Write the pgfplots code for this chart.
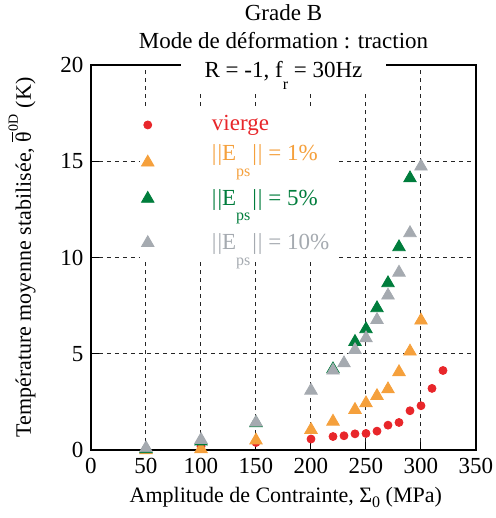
\documentclass[border=0pt]{standalone}
\usepackage{pgfplots}
\pgfplotsset{compat=1.18}
\usepackage{fontspec}
\setmainfont{Liberation Serif}
\definecolor{cred}{RGB}{232,38,42}
\definecolor{corange}{RGB}{245,160,60}
\definecolor{cgreen}{RGB}{0,125,60}
\definecolor{cgrey}{RGB}{165,170,176}
\newcommand{\nE}{|\kern0.5pt|E\raisebox{-1.5ex}{\footnotesize ps}\kern1pt|\kern0.5pt|}
\begin{document}
\fontsize{11}{13}\selectfont
\begin{tikzpicture}
\useasboundingbox (-45.5pt,-34pt) rectangle (202pt,225pt);
\begin{axis}[
  at={(0,0)}, anchor=origin,
  scale only axis, width=192.5pt, height=192.5pt,
  xmin=0, xmax=350, ymin=0, ymax=20,
  xtick={0,50,...,350}, ytick={0,5,...,20},
  xtick pos=bottom, ytick pos=left,
  tick align=inside, major tick length=4pt,
  tick style={black, solid, line width=0.5pt},
  grid=major,
  major grid style={black!85, dash pattern=on 2pt off 2pt, line width=0.5pt},
  axis line style={black, line width=0.6pt},
  /pgf/number format/assume math mode=true,
  tick label style={font=\fontsize{11.5}{13}\selectfont},
  label style={font=\fontsize{11}{13}\selectfont},
  xlabel={Amplitude de Contrainte, Σ\raisebox{-0.5ex}{\footnotesize 0} (MPa)},
  xlabel style={at={(axis description cs:0.506,-0.122)}, anchor=center},
  ylabel={Température moyenne stabilisée, $\overline{\hbox{θ}}^{\hbox{\scriptsize 0D}}$ (K)},
  ylabel style={at={(axis description cs:-0.179,0.5)}, anchor=center, rotate=0},
  clip=false,
  legend cell align=left,
  legend style={draw=none, fill=white, at={(axis description cs:0.125,0.885)}, anchor=north west,
    font=\fontsize{11.5}{13}\selectfont, row sep=8.5pt, inner sep=1pt},
  legend image code/.code={\draw[#1] plot coordinates {(0cm,0cm)}; \path (0cm,0cm) (1.05cm,0cm);},
]
\addplot[only marks, mark=*, mark size=2pt, cred, mark options={draw=cred, fill=cred}] coordinates {
(50,0.03)(100,0.18)(150,0.39)(200,0.57)(220,0.70)(230,0.74)(240,0.84)(250,0.86)(260,0.98)(270,1.29)(280,1.43)(290,2.04)(300,2.30)(310,3.20)(320,4.13)};
\addlegendentry{\textcolor{cred}{vierge}}
\addplot[only marks, mark=triangle*, mark size=3.6pt, corange, mark options={draw=corange, fill=corange}] coordinates {
(50,0.0)(100,0.05)(150,0.5)(200,1.05)(220,1.48)(240,2.09)(250,2.43)(260,2.81)(270,3.16)(280,4.05)(290,5.12)(300,6.73)};
\addlegendentry{\textcolor{corange}{\raisebox{0pt}[0pt][\depth]{\nE\ = 1\%}}}
\addplot[only marks, mark=triangle*, mark size=3.6pt, cgreen, mark options={draw=cgreen, fill=cgreen}] coordinates {
(50,0.05)(100,0.45)(150,1.4)(220,4.2)(240,5.62)(250,6.28)(260,7.37)(270,8.67)(280,10.54)(290,14.12)};
\addlegendentry{\textcolor{cgreen}{\nE\ = 5\%}}
\addplot[only marks, mark=triangle*, mark size=3.6pt, cgrey, mark options={draw=cgrey, fill=cgrey}] coordinates {
(50,0.1)(100,0.53)(150,1.43)(200,3.09)(220,4.13)(230,4.51)(240,5.2)(250,5.81)(260,6.76)(270,8.03)(280,9.22)(290,11.27)(300,14.73)};
\addlegendentry{\textcolor{cgrey}{\nE\ = 10\%}}
\node[anchor=base, inner sep=0pt, font=\fontsize{11.5}{13}\selectfont] at (axis description cs:0.5,1) [yshift=22pt] {Grade B};
\node[anchor=base, inner sep=0pt, font=\fontsize{11.5}{13}\selectfont] at (axis description cs:0.5,1) [yshift=8pt] {Mode de déformation : traction};
\node[anchor=base, fill=white, inner xsep=12pt, inner ysep=2pt, font=\fontsize{11.5}{13}\selectfont] at (axis description cs:0.5,1) [yshift=-6.5pt] {R = -1, f\raisebox{-1.1ex}{\footnotesize r} = 30Hz};
\end{axis}
\end{tikzpicture}
\end{document}
